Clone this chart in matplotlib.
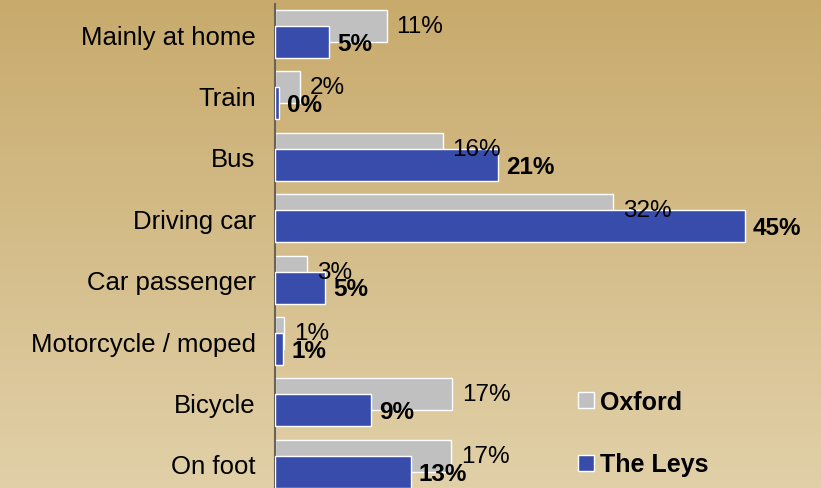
import matplotlib
matplotlib.use("Agg")
import matplotlib.pyplot as plt
from matplotlib.lines import Line2D
import numpy as np

plt.rcParams['font.family'] = ['Liberation Sans', 'DejaVu Sans']

categories = ["Mainly at home", "Train", "Bus", "Driving car", "Car passenger",
              "Motorcycle / moped", "Bicycle", "On foot"]
oxford = [10.7, 2.4, 16.1, 32.4, 3.1, 0.9, 17.0, 16.9]
the_leys = [5.2, 0.4, 21.4, 45.0, 4.8, 0.8, 9.2, 13.0]

W, H = 821, 489
fig = plt.figure(figsize=(W / 100, H / 100), dpi=100)

# vertical tan gradient behind everything
bg = fig.add_axes([0, 0, 1, 1])
top = np.array([200, 170, 108]) / 255
bottom = np.array([225, 208, 168]) / 255
t = np.linspace(0, 1, 256)[:, None]
grad = top[None, :] * (1 - t) + bottom[None, :] * t
bg.imshow(grad[:, None, :], aspect='auto', extent=[0, 1, 0, 1])
bg.axis('off')

ax = fig.add_axes([275 / W, 0, 1 - 275 / W, 1 - 5 / H])
ax.patch.set_alpha(0)

y = np.arange(len(categories))
h = 0.52
off = 0.13
grey = '#c0c0c0'
blue = '#384cab'

ax.barh(y - off, oxford, height=h, color=grey, edgecolor='white', linewidth=1, zorder=2)
ax.barh(y + off, the_leys, height=h, color=blue, edgecolor='white', linewidth=1, zorder=3)

for i in range(len(categories)):
    ax.text(oxford[i] + 0.9, y[i] - off, f"{oxford[i]:.0f}%", va='center', ha='left',
            fontsize=17.5, zorder=4)
    ax.text(the_leys[i] + 0.75, y[i] + off + 0.02, f"{the_leys[i]:.0f}%", va='center', ha='left',
            fontsize=17.5, fontweight='bold', zorder=4)

ax.set_xlim(0, (W - 275) / 10.44)
ax.set_ylim(7.394, -0.489)
ax.set_yticks(y)
ax.set_yticklabels(categories, fontsize=18.5)
ax.tick_params(axis='y', length=0, pad=14)
ax.set_xticks([])
for s in ['top', 'right', 'bottom']:
    ax.spines[s].set_visible(False)
ax.spines['left'].set_color('#6a6458')
ax.spines['left'].set_linewidth(1.5)

handles = [Line2D([], [], marker='s', linestyle='', markersize=12, markerfacecolor=grey,
                  markeredgecolor='white', markeredgewidth=1),
           Line2D([], [], marker='s', linestyle='', markersize=12, markerfacecolor=blue,
                  markeredgecolor='white', markeredgewidth=1)]
fig.legend(handles, ["Oxford", "The Leys"], loc='upper left',
           bbox_to_anchor=(551 / W, 1 - 368 / H), frameon=False,
           prop={'size': 18, 'weight': 'bold'}, labelspacing=1.55,
           handletextpad=0.05, handlelength=1.0)

fig.savefig("out.png", dpi=100)
